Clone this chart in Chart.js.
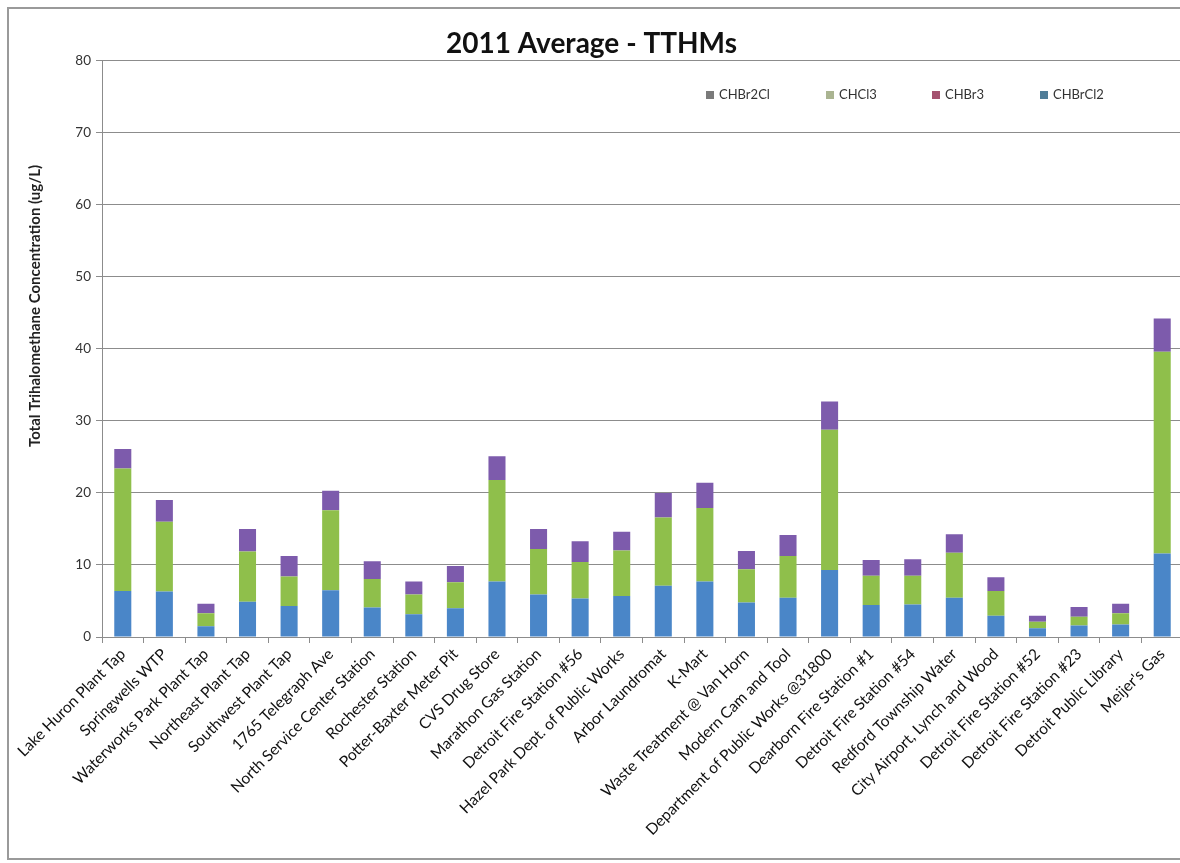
<!DOCTYPE html>
<html>
<head>
<meta charset="utf-8">
<script src="https://cdn.jsdelivr.net/npm/chart.js@4.4.1/dist/chart.umd.min.js"></script>
<style>
  html, body { margin: 0; padding: 0; background: #ffffff; overflow: hidden; width: 1180px; height: 863px; }
  #wrap { position: absolute; left: 0; top: 0; width: 1180px; height: 863px; overflow: hidden; }
  #c { position: absolute; left: 0; top: 0; }
</style>
</head>
<body>
<div id="wrap"><canvas id="c" width="1195" height="863"></canvas></div>
<script>
const categories = [
  "Lake Huron Plant Tap", "Springwells WTP", "Waterworks Park Plant Tap", "Northeast Plant Tap",
  "Southwest Plant Tap", "1765 Telegraph Ave", "North Service Center Station", "Rochester Station",
  "Potter-Baxter Meter Pit", "CVS Drug Store", "Marathon Gas Station", "Detroit Fire Station #56",
  "Hazel Park Dept. of Public Works", "Arbor Laundromat", "K-Mart", "Waste Treatment @ Van Horn",
  "Modern Cam and Tool", "Department of Public Works @31800", "Dearborn Fire Station #1",
  "Detroit Fire Station #54", "Redford Township Water", "City Airport, Lynch and Wood",
  "Detroit Fire Station #52", "Detroit Fire Station #23", "Detroit Public Library", "Meijer's Gas"
];
const CHBrCl2 = [6.4, 6.3, 1.5, 4.9, 4.3, 6.5, 4.1, 3.15, 4.0, 7.7, 5.9, 5.35, 5.7, 7.1, 7.7, 4.8, 5.45, 9.3, 4.45, 4.5, 5.45, 2.95, 1.2, 1.6, 1.75, 11.6];
const CHBr3   = [0, 0, 0, 0, 0, 0, 0, 0, 0, 0, 0, 0, 0, 0, 0, 0, 0, 0, 0, 0, 0, 0, 0, 0, 0, 0];
const CHCl3   = [17.0, 9.7, 1.8, 6.95, 4.1, 11.1, 3.95, 2.75, 3.6, 14.1, 6.3, 5.05, 6.3, 9.5, 10.2, 4.6, 5.8, 19.45, 4.05, 4.0, 6.25, 3.45, 0.9, 1.2, 1.55, 28.0];
const CHBr2Cl = [2.7, 3.0, 1.3, 3.15, 2.85, 2.7, 2.45, 1.8, 2.25, 3.3, 2.8, 2.9, 2.6, 3.4, 3.5, 2.55, 2.9, 3.95, 2.2, 2.3, 2.55, 1.9, 0.85, 1.35, 1.3, 4.6];
const yTicks = [0, 10, 20, 30, 40, 50, 60, 70, 80];
const seriesNames = ["CHBrCl2", "CHBr3", "CHCl3", "CHBr2Cl"];

const FONT = "Lato, 'Open Sans', 'DejaVu Sans', sans-serif";
const barColors = ["#4a86c8", "#c0504d", "#8fbf4b", "#7d5bac"];
const legendColors = ["#507d98", "#a4526f", "#aab491", "#7a7a7a"];

const framePlugin = {
  id: 'frame',
  beforeDraw(chart) {
    const ctx = chart.ctx;
    ctx.save();
    ctx.fillStyle = '#ffffff';
    ctx.fillRect(0, 0, chart.width, chart.height);
    ctx.strokeStyle = '#9a9a9a';
    ctx.lineWidth = 2;
    ctx.strokeRect(8, 8, chart.width + 40, 851);
    ctx.restore();
  }
};

const legendPlugin = {
  id: 'customLegend',
  afterDraw(chart) {
    const ctx = chart.ctx;
    const order = [3, 2, 1, 0];
    const xs = [706, 826, 932, 1040];
    const y = 95;
    ctx.save();
    ctx.font = "13px " + FONT;
    ctx.textBaseline = 'middle';
    order.forEach((di, i) => {
      const ds = chart.data.datasets[di];
      ctx.fillStyle = legendColors[di];
      ctx.fillRect(xs[i], y - 4, 8, 8);
      ctx.fillStyle = '#333333';
      ctx.fillText(ds.label, xs[i] + 13, y);
    });
    ctx.restore();
  }
};

const yTitlePlugin = {
  id: 'yTitle',
  afterDraw(chart) {
    const ctx = chart.ctx;
    ctx.save();
    ctx.translate(35, 306);
    ctx.rotate(-Math.PI / 2);
    ctx.font = "bold 15px " + FONT;
    ctx.fillStyle = '#222222';
    ctx.textAlign = 'center';
    ctx.textBaseline = 'middle';
    ctx.fillText("Total Trihalomethane Concentration (ug/L)", 0, 0);
    ctx.restore();
  }
};

const datasets = [CHBrCl2, CHBr3, CHCl3, CHBr2Cl].map((vals, i) => ({
  label: seriesNames[i],
  data: vals,
  backgroundColor: barColors[i],
  borderWidth: 0,
  barPercentage: 0.41,
  categoryPercentage: 1.0,
  stack: 's'
}));

new Chart(document.getElementById('c'), {
  type: 'bar',
  data: { labels: categories, datasets },
  plugins: [framePlugin, legendPlugin, yTitlePlugin],
  options: {
    responsive: false,
    animation: false,
    layout: { padding: { left: 0, right: 12, top: 0, bottom: 0 } },
    plugins: {
      legend: { display: false },
      tooltip: { enabled: false },
      title: {
        display: true,
        text: "2011 Average - TTHMs",
        color: '#111111',
        font: { family: FONT, size: 28, weight: 'bold' },
        padding: { top: 27, bottom: 0 }
      }
    },
    scales: {
      x: {
        stacked: true,
        grid: { display: true, drawOnChartArea: false, color: '#8c8c8c', tickLength: 6, offset: true },
        border: { display: true, color: '#8c8c8c', width: 1 },
        ticks: {
          autoSkip: false, maxRotation: 45, minRotation: 45,
          color: '#111111', font: { family: FONT, size: 15.5 }, padding: 2
        },
        afterFit(scale) { scale.height = 226; }
      },
      y: {
        stacked: true,
        min: 0, max: 80,
        afterBuildTicks(scale) { scale.ticks = yTicks.map(v => ({ value: v })); },
        grid: { color: '#8c8c8c', tickLength: 6, lineWidth: 1 },
        border: { display: true, color: '#8c8c8c', width: 1 },
        ticks: { color: '#333333', font: { family: FONT, size: 13.5 }, padding: 5 },
        afterFit(scale) { scale.width = 102; }
      }
    }
  }
});
</script>
</body>
</html>
